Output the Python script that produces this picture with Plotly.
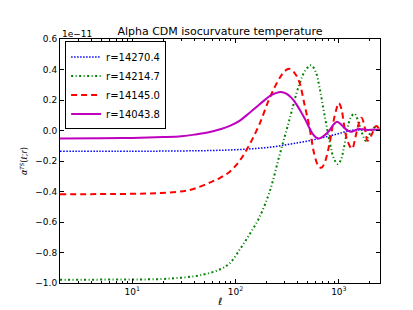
import plotly.graph_objects as go
import numpy as np

# Multipoles and values (units of 1e-11)
ell_m = [2, 5, 10, 20, 30, 40, 55, 71, 88, 110, 137, 170, 214, 245, 275, 310, 350, 390, 440, 480, 516, 560, 600, 640, 700, 810, 890, 960, 1030, 1120, 1210, 1300, 1420, 1550, 1700, 1900, 2200, 2500]
val_m = [-0.052, -0.051, -0.049, -0.043, -0.037, -0.027, -0.012, 0.008, 0.03, 0.065, 0.117, 0.17, 0.225, 0.245, 0.253, 0.242, 0.212, 0.17, 0.11, 0.063, 0.02, -0.024, -0.045, -0.052, -0.04, 0.0, 0.04, 0.057, 0.045, 0.02, 0.0, -0.008, 0.0, 0.01, 0.008, 0.004, 0.006, 0.004]

ell_b = [2, 10, 30, 60, 100, 150, 214, 300, 400, 516, 650, 800, 1000, 1300, 1600, 2000, 2500]
val_b = [-0.136, -0.136, -0.134, -0.131, -0.126, -0.119, -0.11, -0.095, -0.08, -0.067, -0.052, -0.037, -0.02, 0.0, 0.003, 0.004, 0.005]

ell_r = [2, 5, 10, 19, 36, 57, 71, 88, 110, 137, 170, 214, 267, 300, 330, 370, 413, 465, 516, 578, 630, 675, 720, 810, 870, 935, 1000, 1060, 1120, 1200, 1340, 1450, 1550, 1660, 1780, 1900, 2100, 2300, 2500]
val_r = [-0.418, -0.417, -0.415, -0.41, -0.39, -0.34, -0.31, -0.27, -0.197, -0.09, 0.04, 0.214, 0.344, 0.39, 0.405, 0.38, 0.32, 0.17, 0.03, -0.155, -0.23, -0.245, -0.22, -0.09, 0.03, 0.128, 0.18, 0.14, 0.04, -0.06, -0.12, -0.04, 0.04, 0.084, 0.02, -0.067, -0.02, 0.03, 0.0]

ell_g = [2, 10, 19, 30, 45, 71, 88, 110, 137, 170, 214, 267, 332, 413, 480, 540, 600, 650, 725, 810, 890, 975, 1050, 1120, 1300, 1420, 1550, 1690, 1820, 2000, 2300, 2500]
val_g = [-0.978, -0.977, -0.974, -0.965, -0.95, -0.91, -0.87, -0.78, -0.68, -0.57, -0.40, -0.16, 0.07, 0.30, 0.40, 0.427, 0.38, 0.28, 0.106, -0.067, -0.18, -0.22, -0.19, -0.11, 0.084, 0.11, 0.05, -0.024, -0.067, -0.02, 0.03, 0.01]

labels = ["r=14270.4", "r=14214.7", "r=14145.0", "r=14043.8"]

x_tickvals = [10, 100, 1000]
x_ticktext = ["10<sup>1</sup>", "10<sup>2</sup>", "10<sup>3</sup>"]
x_minorvals = [m * d for d in (1, 10, 100, 1000) for m in range(2, 10) if m * d <= 2500]

font = "DejaVu Sans"
fig = go.Figure()
fig.add_trace(go.Scatter(x=ell_b, y=val_b, mode="lines", name=labels[0], line=dict(color="#0000ff", width=1.5, dash="1.5px,1.5px", shape="spline")))
fig.add_trace(go.Scatter(x=ell_g, y=val_g, mode="lines", name=labels[1], line=dict(color="#008000", width=2, dash="2px,2.5px,1px,2.5px", shape="spline")))
fig.add_trace(go.Scatter(x=ell_r, y=val_r, mode="lines", name=labels[2], line=dict(color="#ff0000", width=2, dash="6px,4px", shape="spline")))
fig.add_trace(go.Scatter(x=ell_m, y=val_m, mode="lines", name=labels[3], line=dict(color="#bf00bf", width=2, shape="spline")))

fig.update_layout(
    width=413, height=310,
    margin=dict(l=52, r=41, t=31, b=33),
    paper_bgcolor="white", plot_bgcolor="white",
    font=dict(family=font, size=9, color="black"),
    title=dict(text="Alpha CDM isocurvature temperature", x=0.5, xref="paper", xanchor="center", y=1, yref="paper", yanchor="bottom", pad=dict(b=4), font=dict(size=11)),
    legend=dict(x=0.016, y=0.99, xanchor="left", yanchor="top", bordercolor="black", borderwidth=1, bgcolor="white", font=dict(size=10), itemwidth=30, tracegroupgap=0),
    showlegend=True,
)
fig.update_xaxes(type="log", range=[np.log10(2), np.log10(2500)], showgrid=False, zeroline=False,
                 showline=True, linecolor="black", linewidth=1, mirror="allticks",
                 ticks="inside", ticklen=4, tickcolor="black",
                 tickvals=x_tickvals, ticktext=x_ticktext,
                 tickfont=dict(size=9),
                 minor=dict(tickmode="array", tickvals=x_minorvals, ticks="inside", ticklen=2, tickcolor="black", showgrid=False),
                 title=dict(text="<i>ℓ</i>", standoff=2, font=dict(size=10)))
fig.update_yaxes(range=[-1.0, 0.6], showgrid=False, zeroline=False,
                 showline=True, linecolor="black", linewidth=1, mirror="allticks",
                 ticks="inside", ticklen=4, tickcolor="black", dtick=0.2, tickformat=".1f",
                 tickfont=dict(size=9),
                 title=dict(text="<i>α</i><sup><i>TS</i></sup>(<i>ℓ</i>;<i>r</i>)", standoff=6, font=dict(size=8)))
fig.add_annotation(text="1e−11", xref="paper", yref="paper", x=0, y=1, xanchor="left", yanchor="bottom", showarrow=False, font=dict(size=9), yshift=-2)

fig.write_html("out.html")
